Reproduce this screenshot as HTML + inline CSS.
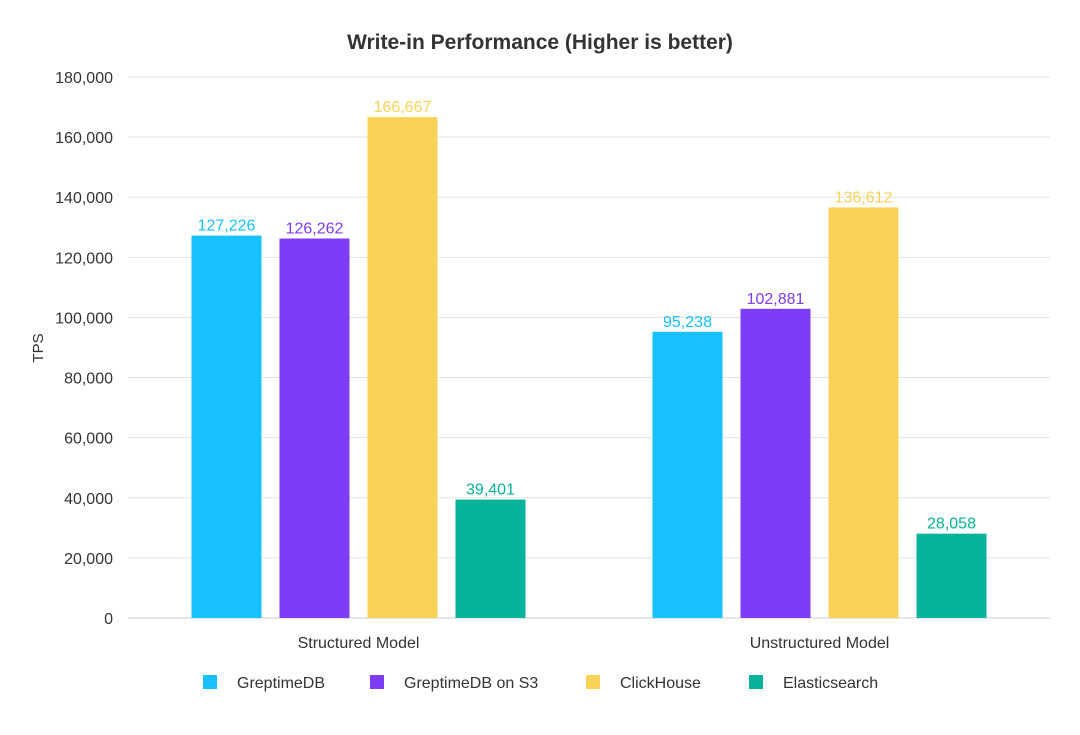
<!DOCTYPE html>
<html><head><meta charset="utf-8"><style>
html,body{margin:0;padding:0;background:#fff;width:1080px;height:735px;overflow:hidden}
svg text{font-family:"Liberation Sans",sans-serif}
</style></head><body>
<svg id="chart" width="1080" height="735">
<text x="540" y="49" text-anchor="middle" font-size="21" font-weight="bold" fill="#333">Write-in Performance (Higher is better)</text>
<text transform="translate(43,348) rotate(-90)" text-anchor="middle" font-size="15" fill="#333">TPS</text>
<g id="grid"></g><g id="bars"></g><g id="legend"></g>
</svg>
<script>
const categories = ["Structured Model", "Unstructured Model"];
const seriesNames = ["GreptimeDB", "GreptimeDB on S3", "ClickHouse", "Elasticsearch"];
const greptime = [127226, 95238];
const greptimeS3 = [126262, 102881];
const clickhouse = [166667, 136612];
const elastic = [39401, 28058];
const yTicks = [0, 20000, 40000, 60000, 80000, 100000, 120000, 140000, 160000, 180000];
const colors = ["#17c0ff", "#7f3cf6", "#f8d259", "#07b39b"];
const series = [greptime, greptimeS3, clickhouse, elastic];
const NS = "http://www.w3.org/2000/svg";
const x0 = 128, x1 = 1050, yB = 618, yT = 77, yMax = 180000;
const y = v => yB - (v / yMax) * (yB - yT);
const catW = (x1 - x0) / categories.length;
const barW = 70, step = 88;
function mk(tag, attrs, parent, text) {
  const e = document.createElementNS(NS, tag);
  for (const k in attrs) e.setAttribute(k, attrs[k]);
  if (text !== undefined) e.textContent = text;
  parent.appendChild(e); return e;
}
const grid = document.getElementById("grid");
yTicks.forEach(t => {
  const l = mk("line", {x1: x0, x2: x1, y1: y(t), y2: y(t), stroke: t === 0 ? "#ccc" : "#e3e3e3", "stroke-width": 1}, grid);
  
  
  const tx = mk("text", {x: 113, y: y(t) + 6, "text-anchor": "end", "font-size": 16, fill: "#333"}, grid, t.toLocaleString("en-US"));
  
  
});
const bars = document.getElementById("bars");
categories.forEach((c, ci) => {
  const cx = x0 + catW * (ci + 0.5);
  const tx = mk("text", {x: cx, y: 648, "text-anchor": "middle", "font-size": 16, fill: "#333"}, bars, c);
  
  
  series.forEach((s, si) => {
    const bx = cx + (si - 1.5) * step - barW / 2;
    const r = mk("rect", {x: bx, y: y(s[ci]), width: barW, height: yB - y(s[ci]), fill: colors[si]}, bars);
    
    
    const v = mk("text", {x: bx + barW / 2, y: y(s[ci]) - 5, "text-anchor": "middle", "font-size": 16, fill: colors[si]}, bars, s[ci].toLocaleString("en-US"));
    
    
  });
});
const legend = document.getElementById("legend");
const lx = [203, 370, 586, 749];
seriesNames.forEach((n, i) => {
  const r = mk("rect", {x: lx[i], y: 675, width: 14, height: 14, fill: colors[i]}, legend);
  
  
  const t = mk("text", {x: lx[i] + 34, y: 688, "font-size": 16, fill: "#333"}, legend, n);
  
  
});
</script>
</body></html>
